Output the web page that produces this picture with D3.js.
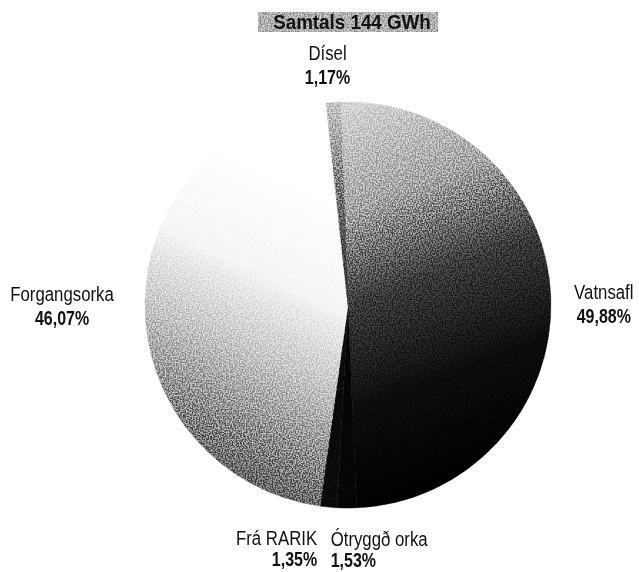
<!DOCTYPE html>
<html>
<head>
<meta charset="utf-8">
<script src="https://cdn.jsdelivr.net/npm/d3@7"></script>
<style>
  body { margin: 0; background: #fff; }
  text { font-family: 'Liberation Sans', Arial, sans-serif; fill: #111; }
  .pct { font-weight: bold; }
</style>
</head>
<body>
<script>
// Raforka, Samtals 144 GWh
const categories = ['Vatnsafl', 'Ótryggð orka', 'Frá RARIK', 'Forgangsorka', 'Dísel'];
const shares = [49.88, 1.53, 1.35, 46.07, 1.17];
const totalLabel = 'Samtals 144 GWh';

const width = 639, height = 572;
const cx = 348, cy = 305, radius = 203;
const rotation = -2 * Math.PI / 180;
const narrow = 'scale(0.8,1)';   // the print uses a condensed face

const svg = d3.select('body')
    .append('svg')
    .attr('width', width)
    .attr('height', height);

const defs = svg.append('defs');

// gradients roughly following the printed halftone shading
function addGradient(id, x1, y1, x2, y2, stops) {
    const g = defs.append('linearGradient')
        .attr('id', id)
        .attr('gradientUnits', 'userSpaceOnUse')
        .attr('x1', x1).attr('y1', y1)
        .attr('x2', x2).attr('y2', y2);
    g.selectAll('stop')
        .data(stops)
        .enter()
        .append('stop')
        .attr('offset', d => d[0])
        .attr('stop-color', d => d[1]);
}

addGradient('g-vatn', -30, -200, 110, 170, [[0, '#dadada'], [0.28, '#a4a4a4'], [0.5, '#3a3a3a'], [0.75, '#0c0c0c'], [1, '#000']]);
addGradient('g-forg', 10, -90, -120, 190, [[0, '#fff'], [0.3, '#f6f6f6'], [0.55, '#c6c6c6'], [0.8, '#868686'], [1, '#555']]);
addGradient('g-disel', 0, -200, 0, 0, [[0, '#c4c4c4'], [0.5, '#6a6a6a'], [1, '#1a1a1a']]);

// grain to imitate the newsprint halftone
function addGrain(id, freq) {
    const f = defs.append('filter')
        .attr('id', id)
        .attr('x', 0).attr('y', 0).attr('width', 1).attr('height', 1)
        .attr('color-interpolation-filters', 'sRGB');
    f.append('feTurbulence')
        .attr('type', 'fractalNoise')
        .attr('baseFrequency', freq)
        .attr('numOctaves', 1)
        .attr('seed', 3);
    f.append('feColorMatrix')
        .attr('type', 'matrix')
        .attr('values', '1 0 0 0 0  1 0 0 0 0  1 0 0 0 0  0 0 0 0 1');
    const ct = f.append('feComponentTransfer');
    ['feFuncR', 'feFuncG', 'feFuncB'].forEach(fn => {
        ct.append(fn).attr('type', 'linear').attr('slope', 4).attr('intercept', -1.5);
    });
}
addGrain('grain', 0.7);

defs.append('clipPath')
    .attr('id', 'pie-clip')
    .append('circle')
    .attr('r', radius);

const fills = {
    'Vatnsafl': 'url(#g-vatn)',
    'Ótryggð orka': '#050505',
    'Frá RARIK': '#0a0a0a',
    'Forgangsorka': 'url(#g-forg)',
    'Dísel': 'url(#g-disel)'
};

// label placement: radius from centre, anchor, extra shift
const labelLayout = {
    'Vatnsafl': { r: 256, anchor: 'middle', dx: 0, dy: 4 },
    'Ótryggð orka': { r: 238, anchor: 'start', dx: -16, dy: 3 },
    'Frá RARIK': { r: 238, anchor: 'end', dx: -8, dy: 3 },
    'Forgangsorka': { r: 286, anchor: 'middle', dx: 0, dy: 0 },
    'Dísel': { r: 244, anchor: 'middle', dx: -3, dy: -2 }
};
const lineGap = { 'Ótryggð orka': 21, 'Frá RARIK': 21 };

const data = categories.map((c, i) => ({ name: c, value: shares[i] }));

const pie = d3.pie()
    .sort(null)
    .value(d => d.value)
    .startAngle(rotation)
    .endAngle(rotation + 2 * Math.PI);

const arc = d3.arc()
    .innerRadius(0)
    .outerRadius(radius);

const g = svg.append('g')
    .attr('transform', 'translate(' + cx + ',' + cy + ')');

const arcs = pie(data);

g.selectAll('.slice')
    .data(arcs)
    .enter()
    .append('path')
    .classed('slice', true)
    .attr('d', arc)
    .attr('fill', d => fills[d.data.name])
    .attr('stroke', d => fills[d.data.name])
    .attr('stroke-width', 0.5);

g.append('rect')
    .attr('x', -radius).attr('y', -radius)
    .attr('width', radius * 2).attr('height', radius * 2)
    .attr('clip-path', 'url(#pie-clip)')
    .attr('filter', 'url(#grain)')
    .style('mix-blend-mode', 'overlay')
    .attr('opacity', 0.5);

// title box
const title = svg.append('g');
title.append('rect')
    .attr('x', 258)
    .attr('y', 12)
    .attr('width', 180)
    .attr('height', 20)
    .attr('fill', '#b0b0b0');
title.append('rect')
    .attr('x', 258)
    .attr('y', 12)
    .attr('width', 180)
    .attr('height', 20)
    .attr('filter', 'url(#grain)')
    .style('mix-blend-mode', 'overlay')
    .attr('opacity', 0.5);
title.append('g')
    .attr('transform', 'translate(352,29) scale(0.94,1)')
    .append('text')
    .attr('text-anchor', 'middle')
    .attr('font-size', 20)
    .attr('font-weight', 'bold')
    .text(totalLabel);

const fmt = v => v.toFixed(2).replace('.', ',') + '%';

const labels = g.selectAll('.label')
    .data(arcs)
    .enter()
    .append('g')
    .classed('label', true)
    .attr('transform', d => {
        const lay = labelLayout[d.data.name];
        const a = (d.startAngle + d.endAngle) / 2;
        const x = Math.sin(a) * lay.r + lay.dx;
        const y = -Math.cos(a) * lay.r + lay.dy;
        return 'translate(' + x + ',' + y + ')';
    });

labels.append('text')
    .attr('transform', narrow)
    .attr('text-anchor', d => labelLayout[d.data.name].anchor)
    .attr('font-size', 21)
    .text(d => d.data.name);

labels.append('text')
    .classed('pct', true)
    .attr('transform', narrow)
    .attr('text-anchor', d => labelLayout[d.data.name].anchor)
    .attr('font-size', 20)
    .attr('y', d => lineGap[d.data.name] || 24)
    .text(d => fmt(d.data.value));
</script>
</body>
</html>
